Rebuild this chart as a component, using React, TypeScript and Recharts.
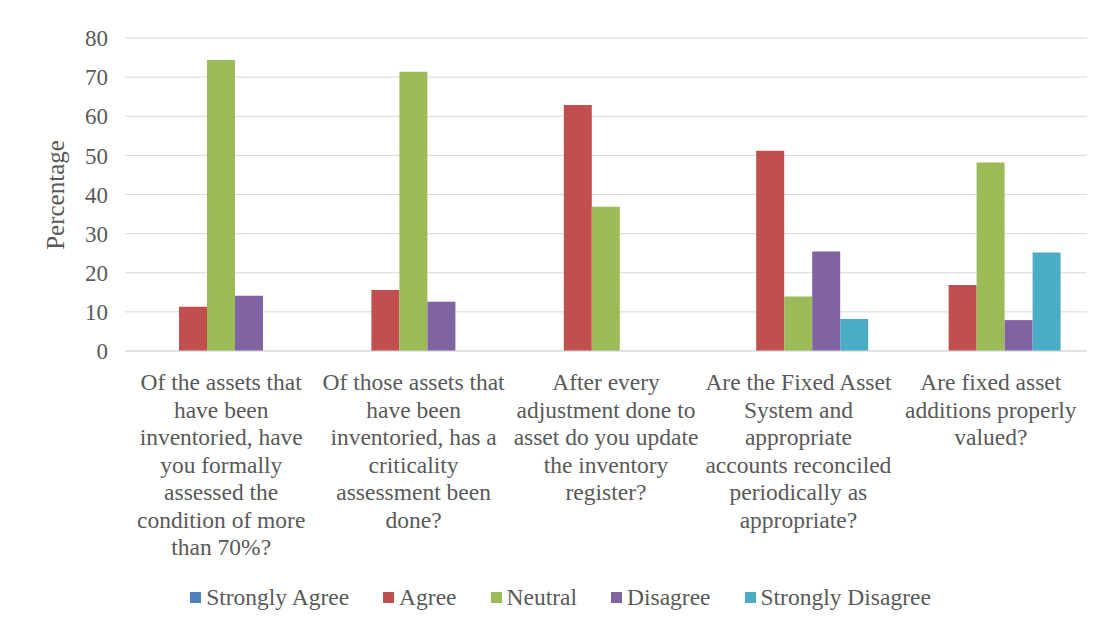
import { BarChart, Bar, XAxis, YAxis, CartesianGrid, Legend } from 'recharts'

// survey questions (x-axis), pre-broken into lines
const questions = [
  ['Of the assets that', 'have been', 'inventoried, have', 'you formally', 'assessed the', 'condition of more', 'than 70%?'],
  ['Of those assets that', 'have been', 'inventoried, has a', 'criticality', 'assessment been', 'done?'],
  ['After every', 'adjustment done to', 'asset do you update', 'the inventory', 'register?'],
  ['Are the Fixed Asset', 'System and', 'appropriate', 'accounts reconciled', 'periodically as', 'appropriate?'],
  ['Are fixed asset', 'additions properly', 'valued?'],
]

const stronglyAgree = [0, 0, 0, 0, 0]
const agree = [11.3, 15.6, 62.9, 51.2, 16.9]
const neutral = [74.4, 71.4, 36.9, 13.9, 48.2]
const disagree = [14.1, 12.6, 0, 25.4, 7.9]
const stronglyDisagree = [0, 0, 0, 8.2, 25.2]

const yTicks = [0, 10, 20, 30, 40, 50, 60, 70, 80]

const series = [
  { key: 'stronglyAgree', name: 'Strongly Agree', color: '#4F81BD' },
  { key: 'agree', name: 'Agree', color: '#C0504D' },
  { key: 'neutral', name: 'Neutral', color: '#9BBB59' },
  { key: 'disagree', name: 'Disagree', color: '#8064A2' },
  { key: 'stronglyDisagree', name: 'Strongly Disagree', color: '#4BACC6' },
]

const data = questions.map((q, i) => ({
  idx: i,
  stronglyAgree: stronglyAgree[i],
  agree: agree[i],
  neutral: neutral[i],
  disagree: disagree[i],
  stronglyDisagree: stronglyDisagree[i],
}))

const FONT = '"Liberation Serif", "Times New Roman", serif'
const TEXT = '#595959'

const QuestionTick = (props: any) => {
  const { x, y, payload } = props
  const lines = questions[payload.value] || []
  return (
    <text x={x} y={y} textAnchor="middle" fill={TEXT} fontFamily={FONT} fontSize={23.5}>
      {lines.map((l, i) => (
        <tspan key={i} x={x} dy={i === 0 ? 31 : 27.5}>
          {l}
        </tspan>
      ))}
    </text>
  )
}

const LegendContent = () => (
  <div
    style={{
      display: 'flex',
      justifyContent: 'center',
      gap: 34,
      paddingLeft: 26,
      paddingTop: 2,
      fontFamily: FONT,
      fontSize: 23.5,
      color: TEXT,
    }}
  >
    {series.map((s) => (
      <div key={s.key} style={{ display: 'flex', alignItems: 'center' }}>
        <span style={{ width: 11, height: 11, background: s.color, marginRight: 5, display: 'inline-block' }} />
        {s.name}
      </div>
    ))}
  </div>
)

export default function App() {
  return (
    <BarChart
      width={1098}
      height={614}
      data={data}
      margin={{ top: 30, right: 19, left: 0, bottom: 0 }}
      barGap={0}
      barSize={28}
    >
      <CartesianGrid vertical={false} stroke="#d9d9d9" />
      <XAxis
        dataKey="idx"
        tick={<QuestionTick />}
        tickLine={false}
        axisLine={{ stroke: '#d9d9d9' }}
        height={231}
        interval={0}
      />
      <YAxis
        width={117}
        domain={[0, 80]}
        ticks={yTicks}
        tickLine={false}
        axisLine={false}
        tickSize={0}
        tickMargin={17}
        tick={{ fill: TEXT, fontFamily: FONT, fontSize: 23 }}
        label={{
          content: () => (
            <text
              x={50}
              y={187}
              transform="rotate(-90, 50, 187)"
              textAnchor="middle"
              dominantBaseline="middle"
              fill={TEXT}
              fontFamily={FONT}
              fontSize={25}
            >
              Percentage
            </text>
          ),
        }}
      />
      <Legend verticalAlign="bottom" height={40} content={<LegendContent />} />
      {series.map((s) => (
        <Bar key={s.key} dataKey={s.key} name={s.name} fill={s.color} isAnimationActive={false} />
      ))}
    </BarChart>
  )
}
